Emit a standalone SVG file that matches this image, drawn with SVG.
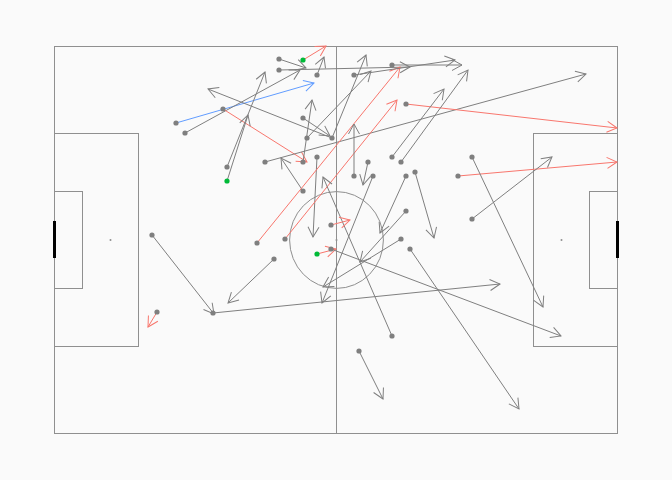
<svg xmlns="http://www.w3.org/2000/svg" width="672" height="480" viewBox="0 0 672 480">
<style>
.pitch{fill:none;stroke:#8f8f8f;stroke-width:1}
.goal{stroke:#000;stroke-width:3}
.spot{fill:#8f8f8f}
.g{stroke:#7f7f7f;stroke-width:1;fill:none;marker-end:url(#ag)}
.r{stroke:#f8766d;stroke-width:1;fill:none;marker-end:url(#ar)}
.b{stroke:#619cff;stroke-width:1;fill:none;marker-end:url(#ab)}
.d{fill:#7f7f7f}
.dg{fill:#00ba38}
</style>
<defs>
<marker id="ag" markerUnits="userSpaceOnUse" markerWidth="14" markerHeight="14" refX="11" refY="7" orient="auto" viewBox="0 0 14 14"><path d="M1,1.5 L11,7 L1,12.5" fill="none" stroke="#7f7f7f" stroke-width="1"/></marker>
<marker id="ar" markerUnits="userSpaceOnUse" markerWidth="14" markerHeight="14" refX="11" refY="7" orient="auto" viewBox="0 0 14 14"><path d="M1,1.5 L11,7 L1,12.5" fill="none" stroke="#f8766d" stroke-width="1"/></marker>
<marker id="ab" markerUnits="userSpaceOnUse" markerWidth="14" markerHeight="14" refX="11" refY="7" orient="auto" viewBox="0 0 14 14"><path d="M1,1.5 L11,7 L1,12.5" fill="none" stroke="#619cff" stroke-width="1"/></marker>
</defs>
<rect width="672" height="480" fill="#fafafa"/>
<g id="pitch">
<rect class="pitch" x="54.5" y="46.5" width="563" height="387"/>
<line class="pitch" x1="336.5" y1="46.5" x2="336.5" y2="433.5"/>
<ellipse class="pitch" cx="336.5" cy="240" rx="46.9" ry="48.4"/>
<rect class="pitch" x="54.5" y="133.5" width="84" height="213"/>
<rect class="pitch" x="533.5" y="133.5" width="84" height="213"/>
<rect class="pitch" x="54.5" y="191.5" width="28" height="97"/>
<rect class="pitch" x="589.5" y="191.5" width="28" height="97"/>
<line class="goal" x1="54.5" y1="221" x2="54.5" y2="258"/>
<line class="goal" x1="617.5" y1="221" x2="617.5" y2="258"/>
<circle class="spot" cx="110.5" cy="240" r="1"/>
<circle class="spot" cx="561.5" cy="240" r="1"/>
<circle class="spot" cx="336.5" cy="240" r="1"/>
</g>
<g id="connectors">
<line class="b" x1="176" y1="123" x2="314" y2="83"/>
<line class="g" x1="185" y1="133" x2="300" y2="70"/>
<line class="r" x1="223" y1="109" x2="307" y2="162"/>
<line class="g" x1="332" y1="138" x2="208" y2="89"/>
<line class="g" x1="227" y1="181" x2="248" y2="115"/>
<line class="g" x1="227" y1="167" x2="265" y2="72"/>
<line class="g" x1="265" y1="162" x2="586" y2="74"/>
<line class="g" x1="303" y1="191" x2="281" y2="158"/>
<line class="g" x1="303" y1="162" x2="312" y2="100"/>
<line class="g" x1="317" y1="157" x2="313" y2="237"/>
<line class="g" x1="279" y1="59" x2="306" y2="68"/>
<line class="g" x1="279" y1="70" x2="410" y2="67"/>
<line class="r" x1="303" y1="60" x2="326" y2="46"/>
<line class="g" x1="317" y1="75" x2="324" y2="57"/>
<line class="r" x1="257" y1="243" x2="400" y2="67"/>
<line class="r" x1="285" y1="239" x2="397" y2="100"/>
<line class="r" x1="406" y1="104" x2="617" y2="128"/>
<line class="r" x1="458" y1="176" x2="617" y2="162"/>
<line class="g" x1="392" y1="65" x2="462" y2="65"/>
<line class="g" x1="354" y1="75" x2="455" y2="60"/>
<line class="g" x1="307" y1="138" x2="371" y2="71"/>
<line class="g" x1="332" y1="138" x2="366" y2="55"/>
<line class="g" x1="303" y1="118" x2="330" y2="136"/>
<line class="g" x1="354" y1="176" x2="354" y2="124"/>
<line class="g" x1="368" y1="162" x2="363" y2="185"/>
<line class="g" x1="392" y1="336" x2="323" y2="177"/>
<line class="g" x1="373" y1="176" x2="322" y2="303"/>
<line class="g" x1="401" y1="239" x2="323" y2="287"/>
<line class="g" x1="406" y1="176" x2="380" y2="233"/>
<line class="g" x1="406" y1="211" x2="360" y2="262"/>
<line class="g" x1="415" y1="172" x2="434" y2="238"/>
<line class="g" x1="392" y1="157" x2="444" y2="89"/>
<line class="g" x1="401" y1="162" x2="468" y2="70"/>
<line class="g" x1="213" y1="313" x2="500" y2="284"/>
<line class="g" x1="152" y1="235" x2="214" y2="314"/>
<line class="g" x1="274" y1="259" x2="228" y2="303"/>
<line class="r" x1="157" y1="312" x2="148" y2="327"/>
<line class="g" x1="359" y1="351" x2="383" y2="399"/>
<line class="g" x1="410" y1="249" x2="519" y2="409"/>
<line class="g" x1="472" y1="157" x2="543" y2="307"/>
<line class="g" x1="472" y1="219" x2="552" y2="157"/>
<line class="r" x1="317" y1="254" x2="336" y2="249"/>
<line class="r" x1="331" y1="225" x2="350" y2="220"/>
<line class="g" x1="331" y1="249" x2="561" y2="336"/>
</g>
<g id="n1"><circle class="d" cx="176" cy="123" r="2.6"/></g>
<g id="n2"><circle class="d" cx="185" cy="133" r="2.6"/></g>
<g id="n3"><circle class="d" cx="223" cy="109" r="2.6"/></g>
<g id="n4"><circle class="d" cx="227" cy="167" r="2.6"/></g>
<g id="n5"><circle class="dg" cx="227" cy="181" r="2.6"/></g>
<g id="n6"><circle class="d" cx="279" cy="59" r="2.6"/></g>
<g id="n7"><circle class="d" cx="279" cy="70" r="2.6"/></g>
<g id="n8"><circle class="dg" cx="303" cy="60" r="2.6"/></g>
<g id="n9"><circle class="d" cx="317" cy="75" r="2.6"/></g>
<g id="n10"><circle class="d" cx="354" cy="75" r="2.6"/></g>
<g id="n11"><circle class="d" cx="392" cy="65" r="2.6"/></g>
<g id="n12"><circle class="d" cx="303" cy="118" r="2.6"/></g>
<g id="n13"><circle class="d" cx="307" cy="138" r="2.6"/></g>
<g id="n14"><circle class="d" cx="332" cy="138" r="2.6"/></g>
<g id="n15"><circle class="d" cx="265" cy="162" r="2.6"/></g>
<g id="n16"><circle class="d" cx="303" cy="162" r="2.6"/></g>
<g id="n17"><circle class="d" cx="317" cy="157" r="2.6"/></g>
<g id="n18"><circle class="d" cx="303" cy="191" r="2.6"/></g>
<g id="n19"><circle class="d" cx="257" cy="243" r="2.6"/></g>
<g id="n20"><circle class="d" cx="285" cy="239" r="2.6"/></g>
<g id="n21"><circle class="d" cx="274" cy="259" r="2.6"/></g>
<g id="n22"><circle class="d" cx="152" cy="235" r="2.6"/></g>
<g id="n23"><circle class="d" cx="157" cy="312" r="2.6"/></g>
<g id="n24"><circle class="d" cx="213" cy="313" r="2.6"/></g>
<g id="n25"><circle class="d" cx="331" cy="225" r="2.6"/></g>
<g id="n26"><circle class="dg" cx="317" cy="254" r="2.6"/></g>
<g id="n27"><circle class="d" cx="331" cy="249" r="2.6"/></g>
<g id="n28"><circle class="d" cx="354" cy="176" r="2.6"/></g>
<g id="n29"><circle class="d" cx="368" cy="162" r="2.6"/></g>
<g id="n30"><circle class="d" cx="373" cy="176" r="2.6"/></g>
<g id="n31"><circle class="d" cx="392" cy="157" r="2.6"/></g>
<g id="n32"><circle class="d" cx="401" cy="162" r="2.6"/></g>
<g id="n33"><circle class="d" cx="406" cy="176" r="2.6"/></g>
<g id="n34"><circle class="d" cx="415" cy="172" r="2.6"/></g>
<g id="n35"><circle class="d" cx="406" cy="211" r="2.6"/></g>
<g id="n36"><circle class="d" cx="401" cy="239" r="2.6"/></g>
<g id="n37"><circle class="d" cx="410" cy="249" r="2.6"/></g>
<g id="n38"><circle class="d" cx="392" cy="336" r="2.6"/></g>
<g id="n39"><circle class="d" cx="359" cy="351" r="2.6"/></g>
<g id="n40"><circle class="d" cx="406" cy="104" r="2.6"/></g>
<g id="n41"><circle class="d" cx="458" cy="176" r="2.6"/></g>
<g id="n42"><circle class="d" cx="472" cy="157" r="2.6"/></g>
<g id="n43"><circle class="d" cx="472" cy="219" r="2.6"/></g>
</svg>
